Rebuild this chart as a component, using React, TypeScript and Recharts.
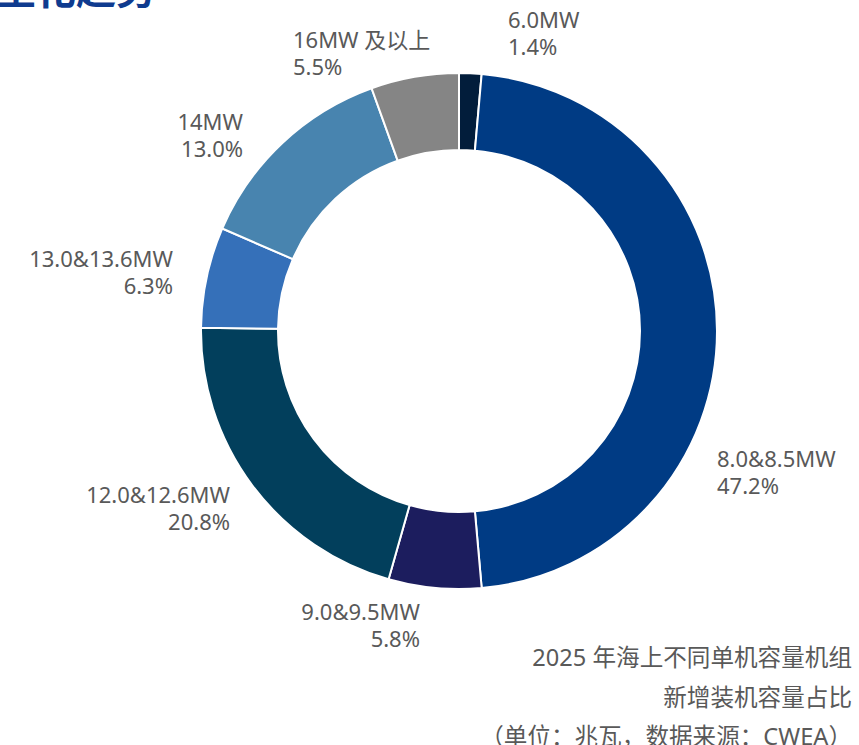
import React from 'react';
import { PieChart, Pie, Cell } from 'recharts';

const categories = ['6.0MW', '8.0&8.5MW', '9.0&9.5MW', '12.0&12.6MW', '13.0&13.6MW', '14MW', '16MW 及以上'];
const shares = [1.4, 47.2, 5.8, 20.8, 6.3, 13.0, 5.5];
const colors = ['#021d3b', '#003b84', '#1c1d5e', '#023f5c', '#3570b9', '#4884af', '#858585'];

const captionLines = ['2025 年海上不同单机容量机组', '新增装机容量占比', '（单位：兆瓦，数据来源：CWEA）'];

const data = categories.map((name, i) => ({ name, value: shares[i] }));

// where each label sits, relative to the pie centre (manually dragged labels in the source)
const labelLayout: { dx: number; dy: number; anchor: 'start' | 'end' }[] = [
  { dx: 49, dy: -311, anchor: 'start' },
  { dx: 258, dy: 128, anchor: 'start' },
  { dx: -39, dy: 281, anchor: 'end' },
  { dx: -229, dy: 164, anchor: 'end' },
  { dx: -286, dy: -72, anchor: 'end' },
  { dx: -216, dy: -209, anchor: 'end' },
  { dx: -166, dy: -291, anchor: 'start' },
];

const FONT = '"Noto Sans", "Noto Sans CJK SC", sans-serif';

const renderLabel = (props: any) => {
  const { cx, cy, index, name, value } = props;
  const pos = labelLayout[index];
  const x = cx + pos.dx;
  const y = cy + pos.dy;
  return (
    <text
      key={`lbl-${index}`}
      x={x}
      y={y}
      textAnchor={pos.anchor}
      fill="#595959"
      fontSize={22}
      fontFamily={FONT}
    >
      <tspan x={x} dy="0.35em">{name}</tspan>
      <tspan x={x} dy={27}>{`${Number(value).toFixed(1)}%`}</tspan>
    </text>
  );
};

const App: React.FC = () => {
  return (
    <div style={{ position: 'fixed', left: 0, top: 0, width: 859, height: 745, background: '#fff', overflow: 'hidden' }}>
      <PieChart width={859} height={745} margin={{ top: 0, right: 0, bottom: 0, left: 0 }}>
        <Pie
          data={data}
          dataKey="value"
          nameKey="name"
          cx={459}
          cy={331}
          innerRadius={181}
          outerRadius={258}
          startAngle={90}
          endAngle={-270}
          stroke="#ffffff"
          strokeWidth={2}
          label={renderLabel}
          labelLine={false}
          isAnimationActive={false}
        >
          {data.map((entry, index) => (
            <Cell key={`cell-${index}`} fill={colors[index]} />
          ))}
        </Pie>
      </PieChart>
      <svg
        width={859}
        height={745}
        style={{ position: 'absolute', left: 0, top: 0, pointerEvents: 'none' }}
      >
        <text x={-4} y={4} fill="#0f3b8f" fontSize={40} fontWeight="bold" fontFamily={FONT}>
          型化趋势
        </text>
        {captionLines.map((line, i) => (
          <text
            key={i}
            x={852}
            y={658 + i * 39.5}
            dy="0.35em"
            textAnchor="end"
            fill="#595959"
            fontSize={23.6}
            fontFamily={FONT}
          >
            {line}
          </text>
        ))}
      </svg>
    </div>
  );
};

export default App;
